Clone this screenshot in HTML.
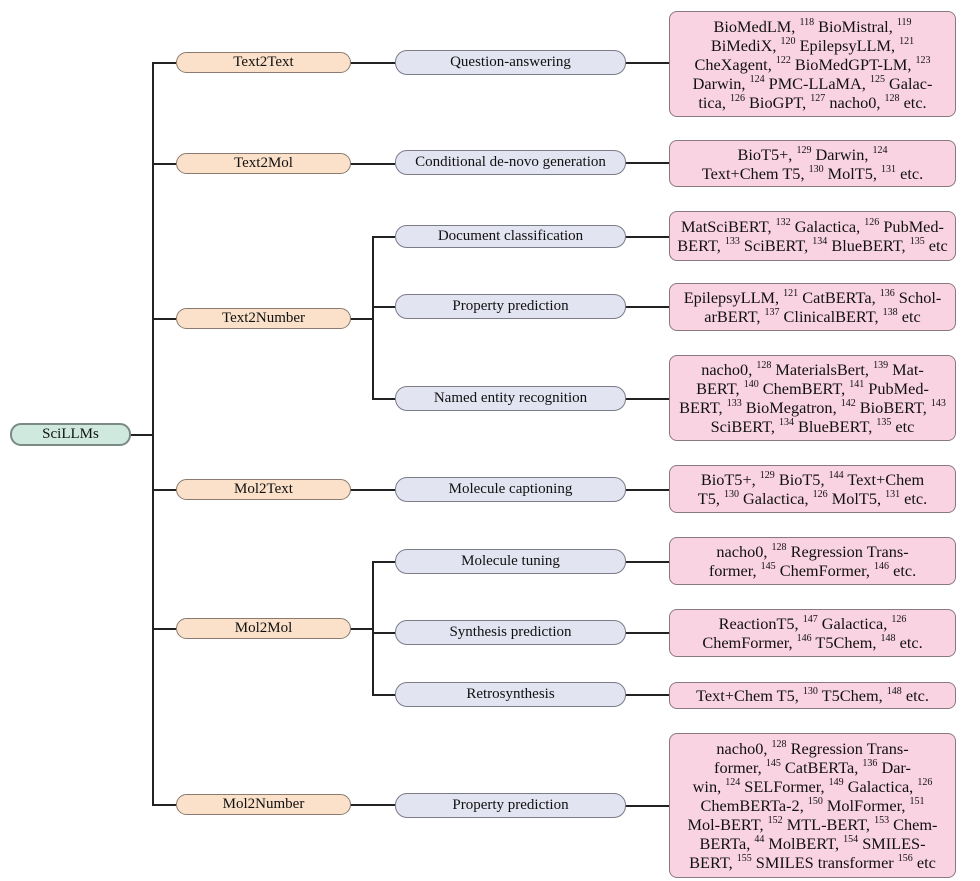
<!DOCTYPE html><html><head><meta charset="utf-8"><style>
body{margin:0;width:980px;height:881px;background:#fff;position:relative;font-family:"Liberation Serif",serif;color:#111;overflow:hidden}
.b{position:absolute;box-sizing:border-box;display:flex;align-items:center;justify-content:center;text-align:center;font-size:15px}
.b>div{width:100%}
.r{background:#cfe9df;border:2px solid #7a8a84;border-radius:11px}
.o{background:#fbe1c9;border:1.5px solid #8a7a70;border-radius:11px}
.p{background:#e3e4f1;border:1.5px solid #7c7c88;border-radius:12px}
.l{background:#f9d3e1;border:1.5px solid #8a7880;border-radius:8px;line-height:19px;font-size:16.3px;white-space:nowrap}
.h,.v{position:absolute;background:#222}
.h{height:1.5px}.v{width:1.5px}
sup{font-size:10px;vertical-align:7px;line-height:0}
</style></head><body>
<div class="h" style="left:130px;top:434px;width:22px"></div>
<div class="v" style="left:152px;top:62px;height:743px"></div>
<div class="v" style="left:372px;top:236px;height:163px"></div>
<div class="v" style="left:372px;top:561px;height:134px"></div>
<div class="h" style="left:152px;top:62px;width:24px"></div>
<div class="h" style="left:152px;top:163px;width:24px"></div>
<div class="h" style="left:152px;top:318px;width:24px"></div>
<div class="h" style="left:152px;top:489px;width:24px"></div>
<div class="h" style="left:152px;top:628px;width:24px"></div>
<div class="h" style="left:152px;top:804px;width:24px"></div>
<div class="h" style="left:350px;top:62px;width:45px"></div>
<div class="h" style="left:350px;top:163px;width:45px"></div>
<div class="h" style="left:350px;top:318px;width:22px"></div>
<div class="h" style="left:372px;top:236px;width:23px"></div>
<div class="h" style="left:372px;top:306px;width:23px"></div>
<div class="h" style="left:372px;top:398px;width:23px"></div>
<div class="h" style="left:350px;top:489px;width:45px"></div>
<div class="h" style="left:350px;top:628px;width:22px"></div>
<div class="h" style="left:372px;top:561px;width:23px"></div>
<div class="h" style="left:372px;top:632px;width:23px"></div>
<div class="h" style="left:372px;top:694px;width:23px"></div>
<div class="h" style="left:350px;top:804px;width:45px"></div>
<div class="h" style="left:625px;top:62px;width:44px"></div>
<div class="h" style="left:625px;top:162px;width:44px"></div>
<div class="h" style="left:625px;top:236px;width:44px"></div>
<div class="h" style="left:625px;top:306px;width:44px"></div>
<div class="h" style="left:625px;top:398px;width:44px"></div>
<div class="h" style="left:625px;top:489px;width:44px"></div>
<div class="h" style="left:625px;top:561px;width:44px"></div>
<div class="h" style="left:625px;top:632px;width:44px"></div>
<div class="h" style="left:625px;top:694px;width:44px"></div>
<div class="h" style="left:625px;top:805px;width:44px"></div>

<div class="b r" style="left:10px;top:423px;width:121px;height:23px"><div>SciLLMs</div></div>
<div class="b o" style="left:176px;top:52px;width:175px;height:21px"><div>Text2Text</div></div>
<div class="b o" style="left:176px;top:153px;width:175px;height:21px"><div>Text2Mol</div></div>
<div class="b o" style="left:176px;top:308px;width:175px;height:21px"><div>Text2Number</div></div>
<div class="b o" style="left:176px;top:479px;width:175px;height:21px"><div>Mol2Text</div></div>
<div class="b o" style="left:176px;top:618px;width:175px;height:21px"><div>Mol2Mol</div></div>
<div class="b o" style="left:176px;top:794px;width:175px;height:21px"><div>Mol2Number</div></div>

<div class="b p" style="left:395px;top:50px;width:231px;height:25px"><div>Question-answering</div></div>
<div class="b p" style="left:395px;top:150px;width:231px;height:25px"><div>Conditional de-novo generation</div></div>
<div class="b p" style="left:395px;top:225px;width:231px;height:23px"><div>Document classification</div></div>
<div class="b p" style="left:395px;top:294px;width:231px;height:25px"><div>Property prediction</div></div>
<div class="b p" style="left:395px;top:386px;width:231px;height:25px"><div>Named entity recognition</div></div>
<div class="b p" style="left:395px;top:477px;width:231px;height:25px"><div>Molecule captioning</div></div>
<div class="b p" style="left:395px;top:549px;width:231px;height:25px"><div>Molecule tuning</div></div>
<div class="b p" style="left:395px;top:620px;width:231px;height:25px"><div>Synthesis prediction</div></div>
<div class="b p" style="left:395px;top:682px;width:231px;height:25px"><div>Retrosynthesis</div></div>
<div class="b p" style="left:395px;top:793px;width:231px;height:25px"><div>Property prediction</div></div>

<div class="b l" style="left:669px;top:11px;width:287px;height:106px"><div>BioMedLM, <sup>118</sup> BioMistral, <sup>119</sup><br>BiMediX, <sup>120</sup> EpilepsyLLM, <sup>121</sup><br>CheXagent, <sup>122</sup> BioMedGPT-LM, <sup>123</sup><br>Darwin, <sup>124</sup> PMC-LLaMA, <sup>125</sup> Galac-<br>tica, <sup>126</sup> BioGPT, <sup>127</sup> nacho0, <sup>128</sup> etc.</div></div>
<div class="b l" style="left:669px;top:140px;width:287px;height:47px"><div>BioT5+, <sup>129</sup> Darwin, <sup>124</sup><br>Text+Chem T5, <sup>130</sup> MolT5, <sup>131</sup> etc.</div></div>
<div class="b l" style="left:669px;top:211px;width:287px;height:50px"><div>MatSciBERT, <sup>132</sup> Galactica, <sup>126</sup> PubMed-<br>BERT, <sup>133</sup> SciBERT, <sup>134</sup> BlueBERT, <sup>135</sup> etc</div></div>
<div class="b l" style="left:669px;top:283px;width:287px;height:48px"><div>EpilepsyLLM, <sup>121</sup> CatBERTa, <sup>136</sup> Schol-<br>arBERT, <sup>137</sup> ClinicalBERT, <sup>138</sup> etc</div></div>
<div class="b l" style="left:669px;top:355px;width:287px;height:86px"><div>nacho0, <sup>128</sup> MaterialsBert, <sup>139</sup> Mat-<br>BERT, <sup>140</sup> ChemBERT, <sup>141</sup> PubMed-<br>BERT, <sup>133</sup> BioMegatron, <sup>142</sup> BioBERT, <sup>143</sup><br>SciBERT, <sup>134</sup> BlueBERT, <sup>135</sup> etc</div></div>
<div class="b l" style="left:669px;top:465px;width:287px;height:48px"><div>BioT5+, <sup>129</sup> BioT5, <sup>144</sup> Text+Chem<br>T5, <sup>130</sup> Galactica, <sup>126</sup> MolT5, <sup>131</sup> etc.</div></div>
<div class="b l" style="left:669px;top:537px;width:287px;height:48px"><div>nacho0, <sup>128</sup> Regression Trans-<br>former, <sup>145</sup> ChemFormer, <sup>146</sup> etc.</div></div>
<div class="b l" style="left:669px;top:609px;width:287px;height:48px"><div>ReactionT5, <sup>147</sup> Galactica, <sup>126</sup><br>ChemFormer, <sup>146</sup> T5Chem, <sup>148</sup> etc.</div></div>
<div class="b l" style="left:669px;top:682px;width:287px;height:27px"><div>Text+Chem T5, <sup>130</sup> T5Chem, <sup>148</sup> etc.</div></div>
<div class="b l" style="left:669px;top:733px;width:287px;height:145px"><div>nacho0, <sup>128</sup> Regression Trans-<br>former, <sup>145</sup> CatBERTa, <sup>136</sup> Dar-<br>win, <sup>124</sup> SELFormer, <sup>149</sup> Galactica, <sup>126</sup><br>ChemBERTa-2, <sup>150</sup> MolFormer, <sup>151</sup><br>Mol-BERT, <sup>152</sup> MTL-BERT, <sup>153</sup> Chem-<br>BERTa, <sup>44</sup> MolBERT, <sup>154</sup> SMILES-<br>BERT, <sup>155</sup> SMILES transformer <sup>156</sup> etc</div></div>
</body></html>
